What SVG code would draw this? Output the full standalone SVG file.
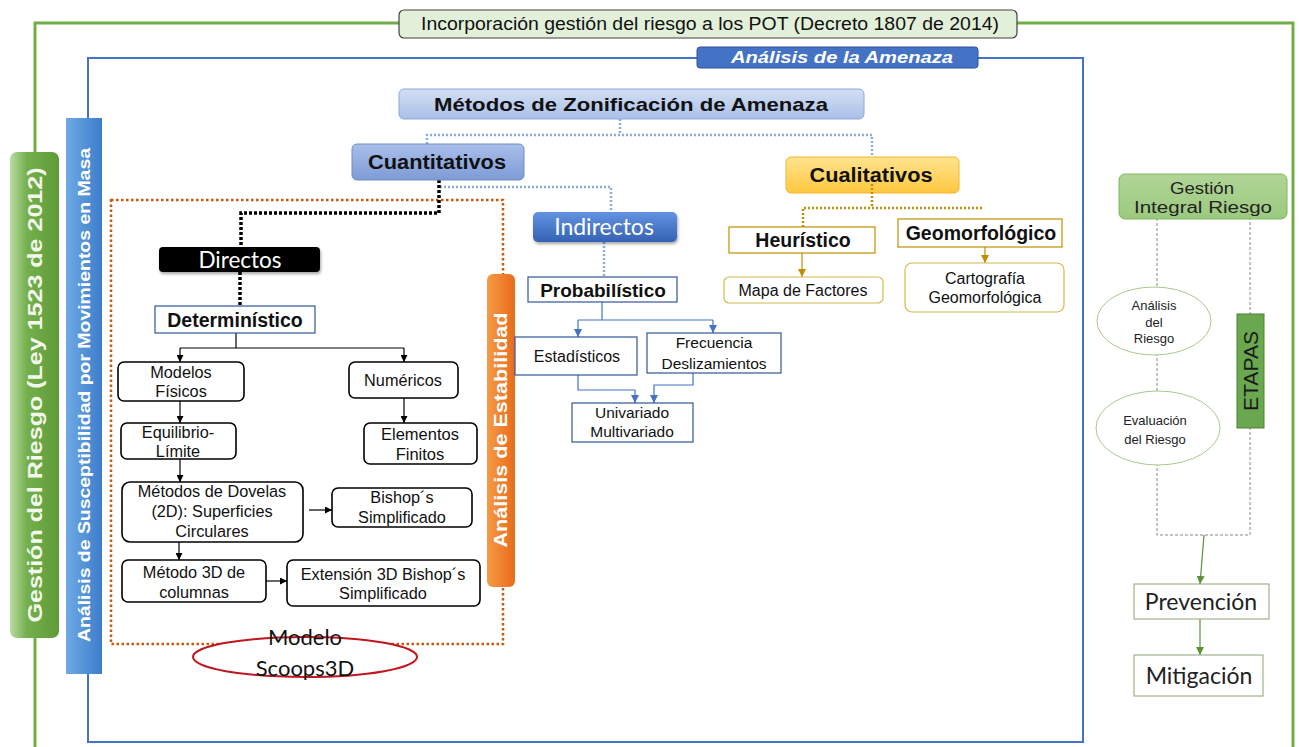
<svg xmlns="http://www.w3.org/2000/svg" width="1299" height="747" viewBox="0 0 1299 747">
<defs>
<style>
.sans{font-family:"Liberation Sans",Arial,sans-serif}
.cal{font-family:Lato,"Liberation Sans",sans-serif}
.b{font-weight:bold}
.node{fill:#fff;stroke:#000;stroke-width:1.6}
.nb{fill:#fff;stroke:#2F5597;stroke-width:1.2}
.ng{fill:#fff;stroke:#BF9000;stroke-width:1.2}
.ngr{fill:#fff;stroke:#D6B84A;stroke-width:1.2}
.t15{font-size:16.3px;fill:#111}
.t12{font-size:13px;fill:#222}
.ln{fill:none;stroke:#000;stroke-width:1.2}
.lb{fill:none;stroke:#4472C4;stroke-width:1.2}
.lg{fill:none;stroke:#BF9000;stroke-width:1.2}
.lgr{fill:none;stroke:#5B8F3A;stroke-width:1.2}
.dl{fill:none;stroke:#8FAADC;stroke-width:2.5;stroke-dasharray:2 2}
.dk{fill:none;stroke:#000;stroke-width:3.5;stroke-dasharray:3 2}
.dg{fill:none;stroke:#BF9000;stroke-width:2.5;stroke-dasharray:2 2}
.dd{fill:none;stroke:#888;stroke-width:1;stroke-dasharray:3 2}
</style>
<linearGradient id="gMet" x1="0" y1="0" x2="0" y2="1"><stop offset="0" stop-color="#D3DFF4"/><stop offset="1" stop-color="#AAC0E8"/></linearGradient>
<linearGradient id="gCuan" x1="0" y1="0" x2="0" y2="1"><stop offset="0" stop-color="#A9BEEA"/><stop offset="1" stop-color="#7E9BD6"/></linearGradient>
<linearGradient id="gCual" x1="0" y1="0" x2="0" y2="1"><stop offset="0" stop-color="#FFE390"/><stop offset="1" stop-color="#FFC83F"/></linearGradient>
<linearGradient id="gInd" x1="0" y1="0" x2="0" y2="1"><stop offset="0" stop-color="#6293E2"/><stop offset="1" stop-color="#3562B4"/></linearGradient>
<linearGradient id="gGB" x1="0" y1="0" x2="1" y2="0"><stop offset="0" stop-color="#B9DBA2"/><stop offset="0.35" stop-color="#74AF4B"/><stop offset="1" stop-color="#5E9C39"/></linearGradient>
<linearGradient id="gBB" x1="0" y1="0" x2="1" y2="0"><stop offset="0" stop-color="#6FAAE4"/><stop offset="1" stop-color="#3C7CCB"/></linearGradient>
<linearGradient id="gOB" x1="0" y1="0" x2="1" y2="0"><stop offset="0" stop-color="#F59A45"/><stop offset="1" stop-color="#E86C1C"/></linearGradient>
<linearGradient id="gGIR" x1="0" y1="0" x2="0" y2="1"><stop offset="0" stop-color="#B0D597"/><stop offset="1" stop-color="#9CC97E"/></linearGradient>
<filter id="sh" x="-10%" y="-20%" width="120%" height="160%"><feDropShadow dx="1" dy="2" stdDeviation="1.5" flood-color="#000" flood-opacity="0.35"/></filter>
<marker id="ak" viewBox="0 0 8 8" refX="8" refY="4" markerWidth="7" markerHeight="7" orient="auto" markerUnits="userSpaceOnUse"><path d="M0,0 L8,4 L0,8 z" fill="#000"/></marker>
<marker id="abl" viewBox="0 0 8 8" refX="8" refY="4" markerWidth="8" markerHeight="8" orient="auto" markerUnits="userSpaceOnUse"><path d="M0,0 L8,4 L0,8 z" fill="#4472C4"/></marker>
<marker id="ag" viewBox="0 0 8 8" refX="8" refY="4" markerWidth="8" markerHeight="8" orient="auto" markerUnits="userSpaceOnUse"><path d="M0,0 L8,4 L0,8 z" fill="#BF9000"/></marker>
<marker id="agr" viewBox="0 0 8 8" refX="8" refY="4" markerWidth="8" markerHeight="8" orient="auto" markerUnits="userSpaceOnUse"><path d="M0,0 L8,4 L0,8 z" fill="#5B8F3A"/></marker>
</defs>
<rect width="1299" height="747" fill="#fff"/>

<g id="frames">
<path d="M35,747 V23 H1293 V747" fill="none" stroke="#70AD47" stroke-width="3"/>
<rect x="88" y="58" width="995" height="684" fill="none" stroke="#4472C4" stroke-width="2"/>
<rect x="111" y="200" width="392" height="444" fill="none" stroke="#C55A11" stroke-width="2.5" stroke-dasharray="2.5 2.5"/>
</g>

<g id="connectors">
<path class="dl" d="M620,119 V135"/>
<path class="dl" d="M427,144 V135 H872 V157"/>
<path class="dl" d="M440,187 H611 V212"/>
<path class="dl" d="M604,242 V277"/>
<path class="dk" d="M439,180 V213 H241 V247"/>
<path class="dk" d="M240,272 V306"/>
<path class="dg" d="M803,227 V208 H982"/>
<path class="ln" d="M236,333 V348 M180,348 H404"/>
<path class="ln" d="M180,348 V362" marker-end="url(#ak)"/>
<path class="ln" d="M404,348 V362" marker-end="url(#ak)"/>
<path class="ln" d="M404,398 V423" marker-end="url(#ak)"/>
<path class="ln" d="M180,401 V423" marker-end="url(#ak)"/>
<path class="ln" d="M180,459 V482" marker-end="url(#ak)"/>
<path class="ln" d="M309,510 H332" marker-end="url(#ak)"/>
<path class="ln" d="M179,542 V560" marker-end="url(#ak)"/>
<path class="ln" d="M266,581 H287" marker-end="url(#ak)"/>
<path class="lb" d="M602,302 V320 M578,320 H713"/>
<path class="lb" d="M578,320 V337" marker-end="url(#abl)"/>
<path class="lb" d="M713,320 V333" marker-end="url(#abl)"/>
<path class="lb" d="M578,375 V390 H635 V403" marker-end="url(#abl)"/>
<path class="lb" d="M693,373 V385 H654 V403" marker-end="url(#abl)"/>
<path class="lg" d="M802,253 V277" marker-end="url(#ag)"/>
<path class="lg" d="M985,247 V263" marker-end="url(#ag)"/>
<path class="dd" d="M1157,218 V535 H1250 V218"/>
<path class="lgr" d="M1204,535 L1200,584" marker-end="url(#agr)"/>
<path class="lgr" d="M1200,619 V655" marker-end="url(#agr)"/>
</g>

<g id="n-title">
<rect x="399" y="10" width="618" height="28" rx="5" fill="#E2F0D9" stroke="#404040" stroke-width="1.2"/>
<text class="sans" x="710" y="30" font-size="17.5" text-anchor="middle" fill="#111" textLength="578" lengthAdjust="spacingAndGlyphs">Incorporación gestión del riesgo a los POT (Decreto 1807 de 2014)</text>
</g>

<g id="n-amenaza">
<rect x="697" y="47" width="281" height="21" rx="3" fill="#4472C4" stroke="#2F5597" stroke-width="1"/>
<text class="sans b" x="842" y="63" font-size="16.5" font-style="italic" text-anchor="middle" fill="#fff" textLength="222" lengthAdjust="spacingAndGlyphs">Análisis de la Amenaza</text>
</g>

<g id="n-gestion-riesgo">
<rect x="10" y="152" width="49" height="486" rx="7" fill="url(#gGB)"/>
<text class="sans b" transform="translate(42,395) rotate(-90)" font-size="20" text-anchor="middle" fill="#F2F8EC" textLength="455" lengthAdjust="spacingAndGlyphs">Gestión del Riesgo (Ley 1523 de 2012)</text>
</g>

<g id="n-susceptibilidad">
<rect x="66" y="118" width="36" height="556" fill="url(#gBB)"/>
<text class="sans b" transform="translate(90,395) rotate(-90)" font-size="17" text-anchor="middle" fill="#fff" textLength="494" lengthAdjust="spacingAndGlyphs">Análisis de Susceptibilidad por Movimientos en Masa</text>
</g>

<g id="n-estabilidad">
<rect x="487" y="274" width="28" height="313" rx="6" fill="url(#gOB)"/>
<text class="sans b" transform="translate(507,430) rotate(-90)" font-size="18" text-anchor="middle" fill="#fff" textLength="235" lengthAdjust="spacingAndGlyphs">Análisis de Estabilidad</text>
</g>

<g id="n-metodos">
<rect x="399" y="89" width="465" height="30" rx="5" fill="url(#gMet)" stroke="#8EA9DB" stroke-width="1"/>
<text class="sans b" x="631" y="111" font-size="19" text-anchor="middle" fill="#111" textLength="394" lengthAdjust="spacingAndGlyphs">Métodos de Zonificación  de Amenaza</text>
</g>

<g id="n-cuantitativos">
<rect x="352" y="144" width="172" height="36" rx="5" fill="url(#gCuan)" stroke="#6C8EBF" stroke-width="1"/>
<text class="sans b" x="437" y="169" font-size="19.5" text-anchor="middle" fill="#111" textLength="138" lengthAdjust="spacingAndGlyphs">Cuantitativos</text>
</g>

<g id="n-cualitativos">
<rect x="786" y="157" width="173" height="36" rx="5" fill="url(#gCual)" stroke="#F2B531" stroke-width="1"/>
<text class="sans b" x="871" y="182" font-size="19.5" text-anchor="middle" fill="#111" textLength="123" lengthAdjust="spacingAndGlyphs">Cualitativos</text>
<path class="dg" d="M872,184 V208"/>
</g>

<g id="n-indirectos">
<rect x="533" y="212" width="144" height="30" rx="5" fill="url(#gInd)" filter="url(#sh)"/>
<text class="cal" x="604" y="235" font-size="23" text-anchor="middle" fill="#fff">Indirectos</text>
</g>

<g id="n-directos">
<rect x="159" y="247" width="161" height="25" rx="4" fill="#000" filter="url(#sh)"/>
<text class="cal" x="240" y="268" font-size="22.5" text-anchor="middle" fill="#fff">Directos</text>
</g>

<g id="n-deterministico">
<rect class="nb" x="155" y="306" width="160" height="27" stroke-width="1.6"/>
<text class="sans b" x="235" y="327" font-size="19.5" text-anchor="middle" fill="#111">Determinístico</text>
</g>

<g id="n-modelos">
<rect class="node" x="118" y="362" width="126" height="39" rx="6"/>
<text class="sans t15" x="181" y="378" text-anchor="middle">Modelos</text>
<text class="sans t15" x="181" y="397" text-anchor="middle">Físicos</text>
</g>

<g id="n-numericos">
<rect class="node" x="349" y="362" width="109" height="36" rx="6" stroke-width="1"/>
<text class="sans t15" x="403" y="386" text-anchor="middle">Numéricos</text>
</g>

<g id="n-elementos">
<rect class="node" x="364" y="423" width="113" height="41" rx="6" stroke-width="1"/>
<text class="sans" x="420" y="440" font-size="16.5" text-anchor="middle" fill="#111">Elementos</text>
<text class="sans" x="420" y="460" font-size="16.5" text-anchor="middle" fill="#111">Finitos</text>
</g>

<g id="n-equilibrio">
<rect class="node" x="121" y="423" width="115" height="36" rx="6"/>
<text class="sans t15" x="178" y="438" text-anchor="middle">Equilibrio-</text>
<text class="sans t15" x="178" y="457" text-anchor="middle">Límite</text>
</g>

<g id="n-dovelas">
<rect class="node" x="122" y="482" width="181" height="60" rx="8"/>
<text class="sans t15" x="212" y="497" text-anchor="middle">Métodos de Dovelas</text>
<text class="sans t15" x="212" y="517" text-anchor="middle">(2D): Superficies</text>
<text class="sans t15" x="212" y="537" text-anchor="middle">Circulares</text>
</g>

<g id="n-bishop">
<rect class="node" x="332" y="488" width="140" height="39" rx="6"/>
<text class="sans t15" x="402" y="503" text-anchor="middle">Bishop´s</text>
<text class="sans t15" x="402" y="523" text-anchor="middle">Simplificado</text>
</g>

<g id="n-metodo3d">
<rect class="node" x="122" y="560" width="144" height="42" rx="6"/>
<text class="sans t15" x="194" y="578" text-anchor="middle">Método 3D de</text>
<text class="sans t15" x="194" y="598" text-anchor="middle">columnas</text>
</g>

<g id="n-extension">
<rect class="node" x="287" y="560" width="193" height="46" rx="6"/>
<text class="sans t15" x="383" y="580" text-anchor="middle">Extensión 3D Bishop´s</text>
<text class="sans t15" x="383" y="599" text-anchor="middle">Simplificado</text>
</g>

<g id="n-scoops">
<ellipse cx="305" cy="657" rx="112" ry="20" fill="#fff" stroke="#C0161E" stroke-width="2"/>
<text class="cal" x="305" y="645" font-size="22" text-anchor="middle" fill="#111">Modelo</text>
<text class="cal" x="305" y="676" font-size="22" text-anchor="middle" fill="#111">Scoops3D</text>
</g>

<g id="n-probabilistico">
<rect class="nb" x="528" y="277" width="149" height="25"/>
<text class="sans b" x="603" y="297" font-size="19" text-anchor="middle" fill="#111">Probabilístico</text>
</g>

<g id="n-estadisticos">
<rect class="nb" x="515" y="337" width="122" height="38"/>
<text class="sans" x="577" y="362" font-size="16" text-anchor="middle" fill="#111">Estadísticos</text>
</g>

<g id="n-frecuencia">
<rect class="nb" x="647" y="333" width="134" height="40"/>
<text class="sans" x="714" y="348" font-size="15.5" text-anchor="middle" fill="#111">Frecuencia</text>
<text class="sans" x="714" y="369" font-size="15.5" text-anchor="middle" fill="#111">Deslizamientos</text>
</g>

<g id="n-univariado">
<rect class="nb" x="572" y="403" width="121" height="39"/>
<text class="sans" x="632" y="418" font-size="15.5" text-anchor="middle" fill="#111">Univariado</text>
<text class="sans" x="632" y="437" font-size="15.5" text-anchor="middle" fill="#111">Multivariado</text>
</g>

<g id="n-heuristico">
<rect class="ng" x="729" y="227" width="146" height="26"/>
<text class="sans b" x="803" y="247" font-size="19.5" text-anchor="middle" fill="#111">Heurístico</text>
</g>

<g id="n-geomorfologico">
<rect class="ng" x="898" y="219" width="164" height="28"/>
<text class="sans b" x="981" y="240" font-size="19.5" text-anchor="middle" fill="#111">Geomorfológico</text>
</g>

<g id="n-mapa">
<rect class="ngr" x="724" y="277" width="159" height="26" rx="5"/>
<text class="sans" x="803" y="296" font-size="16" text-anchor="middle" fill="#111">Mapa de Factores</text>
</g>

<g id="n-cartografia">
<rect class="ngr" x="905" y="263" width="159" height="49" rx="7"/>
<text class="sans" x="985" y="284" font-size="16" text-anchor="middle" fill="#111">Cartografía</text>
<text class="sans" x="985" y="303" font-size="16" text-anchor="middle" fill="#111">Geomorfológica</text>
</g>

<g id="n-gir">
<rect x="1119" y="174" width="168" height="45" rx="6" fill="url(#gGIR)" stroke="#7FB661" stroke-width="1"/>
<text class="sans" x="1202" y="194" font-size="16" text-anchor="middle" fill="#222" textLength="64" lengthAdjust="spacingAndGlyphs">Gestión</text>
<text class="sans" x="1203" y="213" font-size="16" text-anchor="middle" fill="#222" textLength="138" lengthAdjust="spacingAndGlyphs">Integral Riesgo</text>
</g>

<g id="n-analisis-riesgo">
<ellipse cx="1154" cy="321" rx="57" ry="34" fill="#fff" stroke="#A9C98F" stroke-width="1"/>
<text class="sans t12" x="1154" y="310" text-anchor="middle">Análisis</text>
<text class="sans t12" x="1154" y="327" text-anchor="middle">del</text>
<text class="sans t12" x="1154" y="343" text-anchor="middle">Riesgo</text>
</g>

<g id="n-evaluacion">
<ellipse cx="1158" cy="428" rx="62" ry="37" fill="#fff" stroke="#A9C98F" stroke-width="1"/>
<text class="sans t12" x="1155" y="425" text-anchor="middle">Evaluación</text>
<text class="sans t12" x="1155" y="444" text-anchor="middle">del Riesgo</text>
</g>

<g id="n-etapas">
<rect x="1237" y="314" width="27" height="114" fill="#6AA84F" stroke="#4E7F35" stroke-width="1"/>
<text class="sans" transform="translate(1258,371) rotate(-90)" font-size="20" text-anchor="middle" fill="#1a1a1a" textLength="80" lengthAdjust="spacingAndGlyphs">ETAPAS</text>
</g>

<g id="n-prevencion">
<rect x="1134" y="584" width="135" height="35" fill="#fff" stroke="#8AA07A" stroke-width="1"/>
<text class="cal" x="1201" y="610" font-size="23" text-anchor="middle" fill="#222">Prevención</text>
</g>

<g id="n-mitigacion">
<rect x="1134" y="655" width="129" height="41" fill="#fff" stroke="#8AA07A" stroke-width="1"/>
<text class="cal" x="1199" y="684" font-size="23" text-anchor="middle" fill="#222">Mitigación</text>
</g>
</svg>
